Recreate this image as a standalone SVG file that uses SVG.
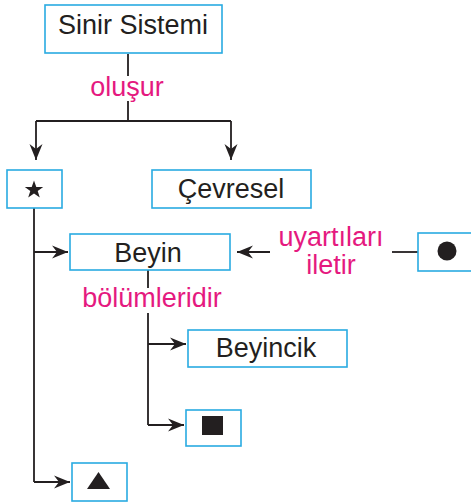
<svg xmlns="http://www.w3.org/2000/svg" width="471" height="504" viewBox="0 0 471 504">
<defs>
<marker id="ah" markerUnits="userSpaceOnUse" markerWidth="17" markerHeight="14" refX="16" refY="7" orient="auto">
<path d="M0,0.5 L16,7 L0,13.5 L5,7 Z" fill="#231f20"/>
</marker>
<style>
.box{fill:#fff;stroke:#29abe2;stroke-width:1.6}
.t{font-family:"Liberation Sans",Arial,sans-serif;font-size:27px;fill:#231f20;text-anchor:middle}
.p{font-family:"Liberation Sans",Arial,sans-serif;font-size:27px;fill:#e5197f;text-anchor:middle}
.ln{fill:none;stroke:#231f20;stroke-width:1.8}
.sym{fill:#231f20}
</style>
</defs>
<rect width="471" height="504" fill="#fff"/>
<g id="connectors">
<path class="ln" d="M128,54 V76 M128,101 V121 M36,121 H231"/>
<path class="ln" d="M36,121 V160" marker-end="url(#ah)"/>
<path class="ln" d="M231,121 V160" marker-end="url(#ah)"/>
<path class="ln" d="M34,208 V482"/>
<path class="ln" d="M34,252 H68" marker-end="url(#ah)"/>
<path class="ln" d="M34,482 H70" marker-end="url(#ah)"/>
<path class="ln" d="M270,252 H237" marker-end="url(#ah)"/>
<path class="ln" d="M392,252 H418"/>
<path class="ln" d="M148,270 V288 M148,313 V425"/>
<path class="ln" d="M148,344 H186" marker-end="url(#ah)"/>
<path class="ln" d="M148,425 H184" marker-end="url(#ah)"/>
</g>
<g id="labels">
<text class="p" x="127" y="96">oluşur</text>
<text class="p" x="331" y="246">uyartıları</text>
<text class="p" x="331" y="274">iletir</text>
<text class="p" x="152" y="307">bölümleridir</text>
</g>
<g id="sinir-sistemi">
<rect class="box" x="45" y="5" width="177" height="48"/>
<text class="t" x="133" y="34" font-size="26">Sinir Sistemi</text>
</g>
<g id="star">
<rect class="box" x="7" y="170" width="55" height="38"/>
<polygon class="sym" points="34,180.5 36.3,187 43.2,187 37.7,191 39.8,197.5 34,193.5 28.2,197.5 30.3,191 24.8,187 31.7,187"/>
</g>
<g id="cevresel">
<rect class="box" x="152" y="170" width="159" height="38"/>
<text class="t" x="231" y="198">Çevresel</text>
</g>
<g id="beyin">
<rect class="box" x="70" y="234" width="160" height="36"/>
<text class="t" x="148" y="262">Beyin</text>
</g>
<g id="circle">
<rect class="box" x="418" y="233" width="60" height="38"/>
<circle class="sym" cx="447" cy="251" r="9.5"/>
</g>
<g id="beyincik">
<rect class="box" x="188" y="330" width="159" height="37"/>
<text class="t" x="266" y="357">Beyincik</text>
</g>
<g id="square">
<rect class="box" x="186" y="410" width="55" height="36"/>
<rect class="sym" x="202" y="416" width="21" height="19"/>
</g>
<g id="triangle">
<rect class="box" x="72" y="463" width="55" height="38"/>
<polygon class="sym" points="87,489 110,489 98.5,472"/>
</g>
</svg>
